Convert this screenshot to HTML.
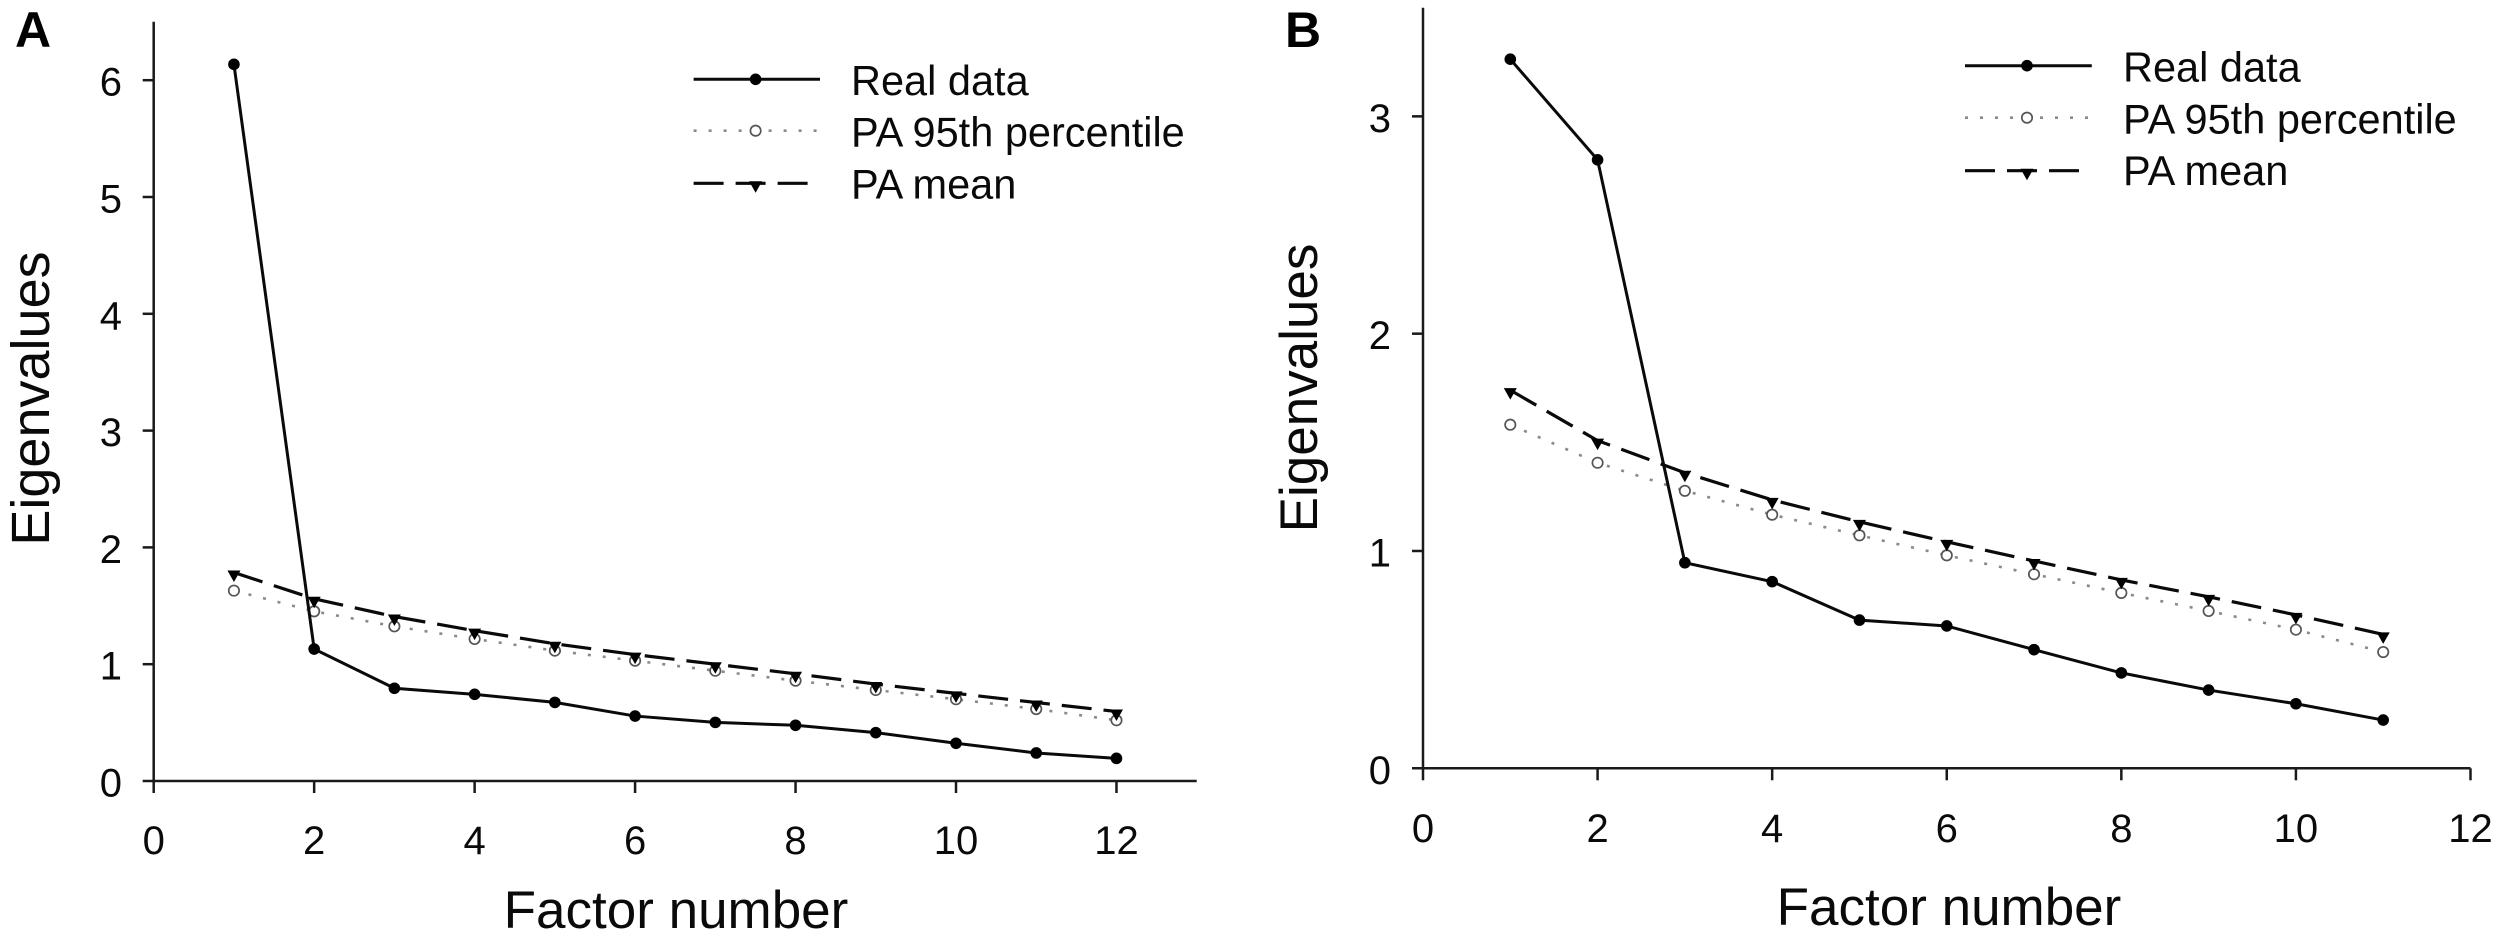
<!DOCTYPE html>
<html lang="en">
<head>
<meta charset="utf-8">
<title>Eigenvalues by factor number: panels A and B</title>
<style>
  html, body { margin: 0; padding: 0; background: #fff; }
  svg { display: block; }
  text { font-family: "Liberation Sans", Arial, sans-serif; fill: #0a0a0a; }
  .tick { font-size: 40px; }
  .title { font-size: 53px; }
  .title-a { font-size: 54px; }
  .legend { font-size: 41.5px; }
  .panel { font-size: 50px; font-weight: bold; fill: #000; }
</style>
</head>
<body>
<svg id="chart" xmlns="http://www.w3.org/2000/svg" width="2500" height="936" viewBox="0 0 2500 936">
  <rect width="2500" height="936" fill="#fff"/>

  <text class="panel" x="15" y="47">A</text>
  <text class="panel" x="1285" y="47">B</text>

  <text class="title" x="676" y="928" text-anchor="middle">Factor number</text>
  <text class="title" x="1949" y="925" text-anchor="middle">Factor number</text>
  <text class="title-a" transform="translate(49 398.5) rotate(-90)" text-anchor="middle">Eigenvalues</text>
  <text class="title" transform="translate(1317 388) rotate(-90)" text-anchor="middle">Eigenvalues</text>

  <g id="panel-a"></g>
  <g id="panel-b"></g>
</svg>

<script>
// Panel A values
const factorsA = [1, 2, 3, 4, 5, 6, 7, 8, 9, 10, 11, 12];
const realA = [6.136, 1.13, 0.794, 0.742, 0.673, 0.556, 0.502, 0.477, 0.414, 0.323, 0.24, 0.194];
const pa95A = [1.63, 1.453, 1.324, 1.216, 1.116, 1.03, 0.944, 0.859, 0.779, 0.70, 0.616, 0.52];
const meanA = [1.785, 1.56, 1.408, 1.287, 1.175, 1.082, 1.0, 0.918, 0.83, 0.75, 0.672, 0.595];
const xTicksA = [0, 2, 4, 6, 8, 10, 12];
const yTicksA = [0, 1, 2, 3, 4, 5, 6];

// Panel B values
const factorsB = [1, 2, 3, 4, 5, 6, 7, 8, 9, 10, 11];
const realB = [3.263, 2.80, 0.946, 0.859, 0.682, 0.655, 0.546, 0.439, 0.36, 0.297, 0.222];
const pa95B = [1.581, 1.406, 1.277, 1.167, 1.072, 0.98, 0.893, 0.807, 0.724, 0.638, 0.535];
const meanB = [1.74, 1.508, 1.36, 1.235, 1.134, 1.042, 0.954, 0.867, 0.789, 0.706, 0.616];
const xTicksB = [0, 2, 4, 6, 8, 10, 12];
const yTicksB = [0, 1, 2, 3];

// Legend labels
const legendLabels = ['Real data', 'PA 95th percentile', 'PA mean'];

const SVG_NS = 'http://www.w3.org/2000/svg';

function make(parent, tag, attrs) {
  const el = document.createElementNS(SVG_NS, tag);
  for (const key in attrs) el.setAttribute(key, attrs[key]);
  parent.appendChild(el);
  return el;
}

function linearScale(d0, d1, r0, r1) {
  return function (v) { return r0 + (v - d0) * (r1 - r0) / (d1 - d0); };
}

function drawCircleMarker(parent, cx, cy) {
  const el = make(parent, 'circle', { cx: cx, cy: cy, r: 5.8, fill: '#000' });
  
  
}

function drawOpenMarker(parent, cx, cy) {
  const el = make(parent, 'circle', { cx: cx, cy: cy, r: 5.2, fill: '#fff', stroke: '#555', 'stroke-width': 1.7 });
  
  
}

function drawTriangleMarker(parent, cx, cy) {
  const points = [[cx - 6.5, cy - 2], [cx + 6.5, cy - 2], [cx, cy + 9.5]].map(function (p) { return p.join(','); }).join(' ');
  const el = make(parent, 'polygon', { points: points, fill: '#000' });
  
  
}

function drawAxes(parent, x, y, xTicks, yTicks, xMax, yMax, xLabelBaseline, yLabelRight) {
  const axisStyle = { stroke: '#1a1a1a', 'stroke-width': 2.5, fill: 'none' };

  const yAxis = make(parent, 'line', Object.assign({ x1: x(0), x2: x(0), y1: y(yMax), y2: y(0) + 1 }, axisStyle));
  
  

  const xAxis = make(parent, 'line', Object.assign({ x1: x(0) - 11, x2: x(xMax), y1: y(0), y2: y(0) }, axisStyle));
  
  

  xTicks.forEach(function (t) {
    const tick = make(parent, 'line', Object.assign({ x1: x(t), x2: x(t), y1: y(0), y2: y(0) + 12 }, axisStyle));
    
    
    const label = make(parent, 'text', { x: x(t), y: xLabelBaseline, 'text-anchor': 'middle', class: 'tick' });
    
    
    label.textContent = t;
  });

  yTicks.forEach(function (t) {
    if (t !== 0) {
      const tick = make(parent, 'line', Object.assign({ x1: x(0) - 11, x2: x(0), y1: y(t), y2: y(t) }, axisStyle));
      
      
    }
    const label = make(parent, 'text', { x: yLabelRight, y: y(t) + 15.5, 'text-anchor': 'end', class: 'tick' });
    
    
    label.textContent = t;
  });
}

function pointsOf(factors, values, x, y) {
  return factors.map(function (f, i) { return x(f) + ',' + y(values[i]); }).join(' ');
}

function drawSeries(parent, factors, real, pa95, mean, x, y) {
  const dotted = make(parent, 'polyline', {
    points: pointsOf(factors, pa95, x, y), fill: 'none', stroke: '#8a8a8a',
    'stroke-width': 2.6, 'stroke-dasharray': '3 12'
  });
  
  
  factors.forEach(function (f, i) { drawOpenMarker(parent, x(f), y(pa95[i])); });

  const dashed = make(parent, 'polyline', {
    points: pointsOf(factors, mean, x, y), fill: 'none', stroke: '#0a0a0a',
    'stroke-width': 3.2, 'stroke-dasharray': '30 12'
  });
  
  
  factors.forEach(function (f, i) { drawTriangleMarker(parent, x(f), y(mean[i])); });

  const solid = make(parent, 'polyline', {
    points: pointsOf(factors, real, x, y), fill: 'none', stroke: '#0a0a0a', 'stroke-width': 3
  });
  
  
  factors.forEach(function (f, i) { drawCircleMarker(parent, x(f), y(real[i])); });
}

function drawLegend(parent, lineX1, lineX2, markerX, textX, lineYs, baselines) {
  const group = make(parent, 'g', {});
  
  

  const solid = make(group, 'line', { x1: lineX1, x2: lineX2, y1: lineYs[0], y2: lineYs[0], stroke: '#0a0a0a', 'stroke-width': 3 });
  
  
  drawCircleMarker(group, markerX, lineYs[0]);

  const dotted = make(group, 'line', { x1: lineX1, x2: lineX2, y1: lineYs[1], y2: lineYs[1], stroke: '#8a8a8a', 'stroke-width': 2.6, 'stroke-dasharray': '3 12' });
  
  
  drawOpenMarker(group, markerX, lineYs[1]);

  const dashed = make(group, 'line', { x1: lineX1, x2: lineX1 + 114, y1: lineYs[2], y2: lineYs[2], stroke: '#0a0a0a', 'stroke-width': 3.2, 'stroke-dasharray': '30 12' });
  
  
  drawTriangleMarker(group, markerX, lineYs[2]);

  legendLabels.forEach(function (name, i) {
    const label = make(group, 'text', { x: textX, y: baselines[i], class: 'legend' });
    
    
    label.textContent = name;
  });
}

// Panel A
const xA = linearScale(0, 13, 153.7, 1196.7);
const yA = linearScale(0, 6.5, 781, 21.8);
const panelA = document.getElementById('panel-a');
drawAxes(panelA, xA, yA, xTicksA, yTicksA, 13, 6.5, 854, 122);
drawSeries(panelA, factorsA, realA, pa95A, meanA, xA, yA);
drawLegend(panelA, 693.6, 820, 755.6, 851, [79.3, 130.7, 183.3], [95, 146.7, 198.3]);

// Panel B
const xB = linearScale(0, 12, 1423, 2470.5);
const yB = linearScale(0, 3.5, 768.3, 7.7);
const panelB = document.getElementById('panel-b');
drawAxes(panelB, xB, yB, xTicksB, yTicksB, 12, 3.5, 842, 1391);
drawSeries(panelB, factorsB, realB, pa95B, meanB, xB, yB);
drawLegend(panelB, 1965, 2091.8, 2027, 2123, [65.7, 117.7, 170.7], [81.7, 133.3, 185]);
</script>
</body>
</html>
